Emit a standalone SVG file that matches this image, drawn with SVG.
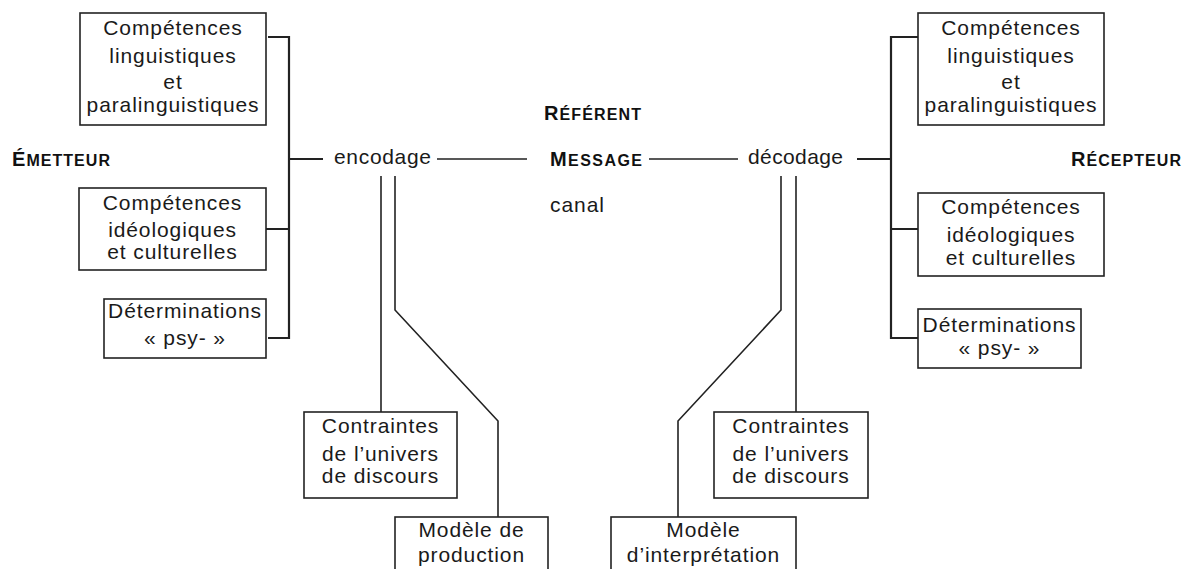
<svg xmlns="http://www.w3.org/2000/svg" width="1193" height="569" viewBox="0 0 1193 569">
<style>
.box{fill:#fff;stroke:#222;stroke-width:1.6}
.t{font-family:"Liberation Sans",Arial,sans-serif;font-size:21px;letter-spacing:0.9px;fill:#1a1a1a;text-anchor:middle}
.tl{font-family:"Liberation Sans",Arial,sans-serif;font-size:21px;fill:#1a1a1a}
.sc{font-family:"Liberation Sans",Arial,sans-serif;font-weight:bold;fill:#111}
.big{font-size:20px}
.small{font-size:16px}
.br{fill:none;stroke:#222;stroke-width:2.2}
.ln{fill:none;stroke:#222;stroke-width:1.6}
</style>
<rect width="1193" height="569" fill="#fff"/>
<g id="connectors">
<path class="br" d="M268 37H289V338H268M266 229H289M289 159H323"/>
<path class="br" d="M918 37H891V338H918M918 229H891M891 159H857"/>
<path class="ln" d="M437 159H527M649 159H738"/>
<path class="ln" d="M381 176V412M395 176V310L498 421V517"/>
<path class="ln" d="M796 176V412M781 176V310L678 421V517"/>
</g>
<g id="emetteur"><text class="sc" x="12" y="166" textLength="98" lengthAdjust="spacing"><tspan class="big">É</tspan><tspan class="small">METTEUR</tspan></text></g>
<g id="referent"><text class="sc" x="544" y="120" textLength="97" lengthAdjust="spacing"><tspan class="big">R</tspan><tspan class="small">ÉFÉRENT</tspan></text></g>
<g id="message"><text class="sc" x="550" y="166" textLength="92" lengthAdjust="spacing"><tspan class="big">M</tspan><tspan class="small">ESSAGE</tspan></text></g>
<g id="recepteur"><text class="sc" x="1071" y="166" textLength="110" lengthAdjust="spacing"><tspan class="big">R</tspan><tspan class="small">ÉCEPTEUR</tspan></text></g>
<g id="canal"><text class="tl" x="550" y="212" textLength="54" lengthAdjust="spacing">canal</text></g>
<g id="encodage"><text class="tl" x="334" y="164" textLength="97" lengthAdjust="spacing">encodage</text></g>
<g id="decodage"><text class="tl" x="748" y="164" textLength="95" lengthAdjust="spacing">décodage</text></g>
<g id="e-ling">
<rect class="box" x="80" y="13" width="186" height="112"/>
<text class="t" x="173" y="35">Compétences</text>
<text class="t" x="173" y="63">linguistiques</text>
<text class="t" x="173" y="89">et</text>
<text class="t" x="173" y="112">paralinguistiques</text>
</g>
<g id="e-ideo">
<rect class="box" x="79" y="188" width="187" height="82"/>
<text class="t" x="172.5" y="210">Compétences</text>
<text class="t" x="172.5" y="237">idéologiques</text>
<text class="t" x="172.5" y="259">et culturelles</text>
</g>
<g id="e-psy">
<rect class="box" x="104" y="299" width="162" height="59"/>
<text class="t" x="185" y="318">Déterminations</text>
<text class="t" x="185" y="345">« psy- »</text>
</g>
<g id="r-ling">
<rect class="box" x="918" y="13" width="186" height="112"/>
<text class="t" x="1011" y="35">Compétences</text>
<text class="t" x="1011" y="63">linguistiques</text>
<text class="t" x="1011" y="89">et</text>
<text class="t" x="1011" y="112">paralinguistiques</text>
</g>
<g id="r-ideo">
<rect class="box" x="918" y="193" width="186" height="83"/>
<text class="t" x="1011" y="214">Compétences</text>
<text class="t" x="1011" y="242">idéologiques</text>
<text class="t" x="1011" y="265">et culturelles</text>
</g>
<g id="r-psy">
<rect class="box" x="918" y="309" width="163" height="59"/>
<text class="t" x="999.5" y="332">Déterminations</text>
<text class="t" x="999.5" y="355">« psy- »</text>
</g>
<g id="e-contraintes">
<rect class="box" x="304" y="412" width="153" height="86"/>
<text class="t" x="380.5" y="433">Contraintes</text>
<text class="t" x="380.5" y="461">de l’univers</text>
<text class="t" x="380.5" y="483">de discours</text>
</g>
<g id="r-contraintes">
<rect class="box" x="714" y="412" width="154" height="86"/>
<text class="t" x="791" y="433">Contraintes</text>
<text class="t" x="791" y="461">de l’univers</text>
<text class="t" x="791" y="483">de discours</text>
</g>
<g id="production">
<rect class="box" x="395" y="517" width="153" height="70"/>
<text class="t" x="471.5" y="537">Modèle de</text>
<text class="t" x="471.5" y="562">production</text>
</g>
<g id="interpretation">
<rect class="box" x="611" y="517" width="185" height="70"/>
<text class="t" x="703.5" y="537">Modèle</text>
<text class="t" x="703.5" y="562">d’interprétation</text>
</g>
</svg>
